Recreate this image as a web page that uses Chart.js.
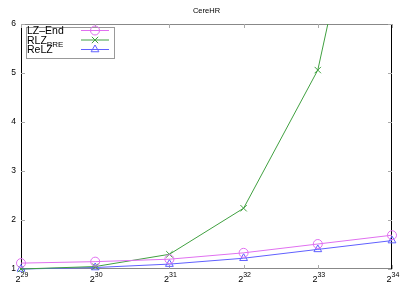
<!DOCTYPE html>
<html><head><meta charset="utf-8">
<script src="https://cdn.jsdelivr.net/npm/chart.js@4"></script>
<style>html,body{margin:0;padding:0;background:#fff}#c{display:block}</style>
</head><body>
<canvas id="c" width="407" height="285"></canvas>
<script>
const exponents = [29, 30, 31, 32, 33, 34];
const yTicks = [1, 2, 3, 4, 5, 6];
const lzEnd = [1.12, 1.15, 1.20, 1.33, 1.51, 1.69];
const rlzPre = [1.00, 1.05, 1.30, 2.24, 5.06, 12.0];
const reLZ = [1.00, 1.03, 1.10, 1.22, 1.40, 1.58];
const title = "CereHR";
const seriesNames = [["LZ\u2013End", ""], ["RLZ", "PRE"], ["ReLZ", ""]];
const colors = ["#e070f0", "#40a040", "#6060ff"];
const styles = ["circle", "crossRot", "triangle"];

const FONT = "Liberation Sans, Arial, sans-serif";
const mk = (arr) => exponents.map((e, i) => ({x: e, y: arr[i]}));

const deco = {
  id: "deco",
  beforeDatasetsDraw(chart) {
    const ctx = chart.ctx, a = chart.chartArea, xs = chart.scales.x, ys = chart.scales.y;
    ctx.save();
    ctx.lineWidth = 1;
    ctx.strokeStyle = "#888";
    ctx.beginPath();
    ctx.moveTo(a.left, a.top + 0.5); ctx.lineTo(a.right, a.top + 0.5);
    ctx.moveTo(a.left, a.bottom - 0.5); ctx.lineTo(a.right, a.bottom - 0.5);
    ctx.stroke();
    ctx.strokeStyle = "#000";
    ctx.beginPath();
    ctx.moveTo(a.left + 0.5, a.top); ctx.lineTo(a.left + 0.5, a.bottom);
    ctx.moveTo(a.right - 0.5, a.top); ctx.lineTo(a.right - 0.5, a.bottom);
    ctx.stroke();
    ctx.strokeStyle = "#aaa";
    ctx.beginPath();
    yTicks.forEach(v => {
      const y = Math.round(ys.getPixelForValue(v)) + 0.5;
      ctx.moveTo(a.left, y); ctx.lineTo(a.left + 4, y);
      ctx.moveTo(a.right, y); ctx.lineTo(a.right - 4, y);
    });
    exponents.forEach(e => {
      const x = Math.round(xs.getPixelForValue(e)) + 0.5;
      ctx.moveTo(x, a.bottom); ctx.lineTo(x, a.bottom - 4);
      ctx.moveTo(x, a.top); ctx.lineTo(x, a.top + 4);
    });
    ctx.stroke();
    ctx.fillStyle = "#000";
    ctx.font = "8.5px " + FONT;
    ctx.textAlign = "right"; ctx.textBaseline = "middle";
    yTicks.forEach(v => ctx.fillText(String(v), a.left - 5, ys.getPixelForValue(v)));
    exponents.forEach(e => {
      const x = xs.getPixelForValue(e);
      ctx.font = "9px " + FONT;
      const bw = ctx.measureText("2").width;
      ctx.font = "7px " + FONT;
      const sw = ctx.measureText(String(e)).width;
      const start = x - (bw + sw) / 2 + 1;
      ctx.textAlign = "left"; ctx.textBaseline = "alphabetic";
      ctx.font = "9px " + FONT;
      ctx.fillText("2", start, a.bottom + 13);
      ctx.font = "7px " + FONT;
      ctx.fillText(String(e), start + bw, a.bottom + 8);
    });
    ctx.font = "7.5px " + FONT;
    ctx.textAlign = "center"; ctx.textBaseline = "middle";
    ctx.fillText(title, (a.left + a.right) / 2, 11);
    ctx.restore();
  },
  afterDraw(chart) {
    const ctx = chart.ctx;
    ctx.save();
    ctx.fillStyle = "#fff";
    ctx.fillRect(26, 27, 89, 31);
    ctx.strokeStyle = "#999"; ctx.lineWidth = 1;
    ctx.strokeRect(26.5, 27.5, 88, 31);
    const baselines = [34, 43.5, 53];
    seriesNames.forEach((n, i) => {
      const b = baselines[i];
      ctx.fillStyle = "#000";
      ctx.textAlign = "left"; ctx.textBaseline = "alphabetic";
      ctx.font = "10.5px " + FONT;
      ctx.fillText(n[0], 27, b);
      if (n[1]) {
        const w = ctx.measureText(n[0]).width;
        ctx.font = "8px " + FONT;
        ctx.fillText(n[1], 27 + w, b + 3);
      }
      const y = b - 3.5;
      ctx.strokeStyle = colors[i]; ctx.lineWidth = 1;
      ctx.beginPath(); ctx.moveTo(81, y); ctx.lineTo(109, y); ctx.stroke();
      ctx.fillStyle = "rgba(0,0,0,0)";
      Chart.helpers.drawPoint(ctx, {pointStyle: styles[i], radius: 4.5, borderWidth: 1}, 95, y);
    });
    ctx.restore();
  }
};

const ds = (label, data, i) => ({
  label, data: mk(data), borderColor: colors[i], backgroundColor: "rgba(0,0,0,0)",
  borderWidth: 1, pointStyle: styles[i],
  pointRadius: 4.5, pointBorderWidth: 1, pointBorderColor: colors[i], pointBackgroundColor: "rgba(0,0,0,0)",
  tension: 0, clip: {left: 8, right: 8, bottom: 8, top: 0}
});

new Chart(document.getElementById("c"), {
  type: "line",
  data: {datasets: [ds("LZ-End", lzEnd, 0), ds("RLZ_PRE", rlzPre, 1), ds("ReLZ", reLZ, 2)]},
  options: {
    responsive: false, animation: false, devicePixelRatio: 1,
    layout: {padding: {left: 21, right: 15, top: 24, bottom: 16}},
    plugins: {legend: {display: false}, title: {display: false}, tooltip: {enabled: false}},
    scales: {
      x: {type: "linear", min: 29, max: 34, display: false},
      y: {type: "linear", min: 1, max: 6, display: false}
    }
  },
  plugins: [deco]
});
</script>
</body></html>
